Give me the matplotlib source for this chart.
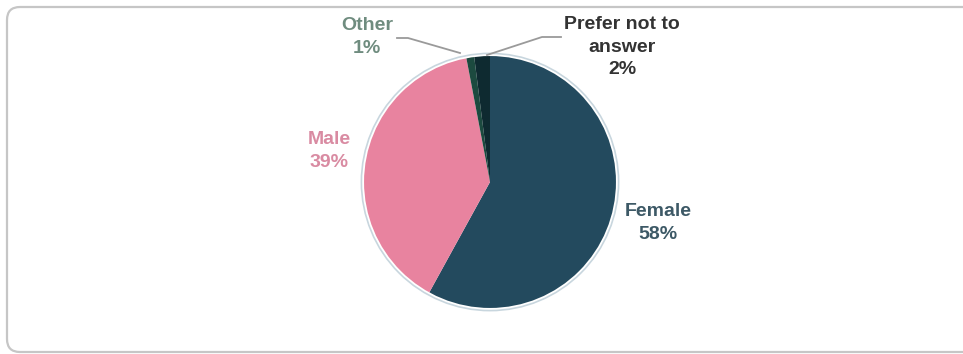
import matplotlib.pyplot as plt
from matplotlib.patches import FancyBboxPatch, Circle

# 性别分布数据 (顺时针, 从12点方向开始)
categories = ['Female', 'Male', 'Other', 'Prefer not to\nanswer']
shares = [58, 39, 1, 2]
slice_colors = ['#234a5e', '#e8839f', '#1c4a3f', '#0e2a30']
label_colors = ['#3d5966', '#d98ba2', '#6f8c7f', '#333333']

plt.rcParams['font.family'] = ['Liberation Sans', 'DejaVu Sans']

W, H = 963, 354
fig = plt.figure(figsize=(W / 100, H / 100), dpi=100)
ax = fig.add_axes([0, 0, 1, 1])

# 外框(圆角矩形, 右侧和底部超出画布)
frame = FancyBboxPatch((7, 2), W + 20, H - 9, boxstyle='round,pad=0,rounding_size=13',
                       facecolor='white', edgecolor='#c6c6c6', linewidth=1.6, zorder=0)
ax.add_patch(frame)

cx, cy, r = 490, H - 182, 127
wedges, _ = ax.pie(shares, colors=slice_colors, startangle=90, counterclock=False,
                   center=(cx, cy), radius=r, frame=True,
                   wedgeprops=dict(linewidth=0))
ax.add_patch(Circle((cx, cy), r, fill=False, edgecolor='white', linewidth=1.5, zorder=3))
ax.add_patch(Circle((cx, cy), r + 1.6, fill=False, edgecolor='#c8d6de', linewidth=1.2, zorder=3))
ax.set_xlim(0, W)
ax.set_ylim(0, H)
ax.axis('off')

# 标签位置 (像素)
label_pos = {
    'Female': (658, H - 223),
    'Male': (329, H - 151),
    'Other': (367, H - 37),
    'Prefer not to\nanswer': (622, H - 47),
}
for name, val, col in zip(categories, shares, label_colors):
    x, y = label_pos[name]
    ax.text(x, y, f'{name}\n{val}%', ha='center', va='center', fontsize=14,
            fontweight='bold', color=col, linespacing=1.42)

# 小扇区的引导线
ax.plot([397, 408, 460], [H - 38, H - 38, H - 53], color='#9a9a9a', lw=1.3, zorder=4)
ax.plot([561, 542, 487], [H - 37, H - 37, H - 55], color='#9a9a9a', lw=1.3, zorder=4)

fig.savefig('out.png', dpi=100)
